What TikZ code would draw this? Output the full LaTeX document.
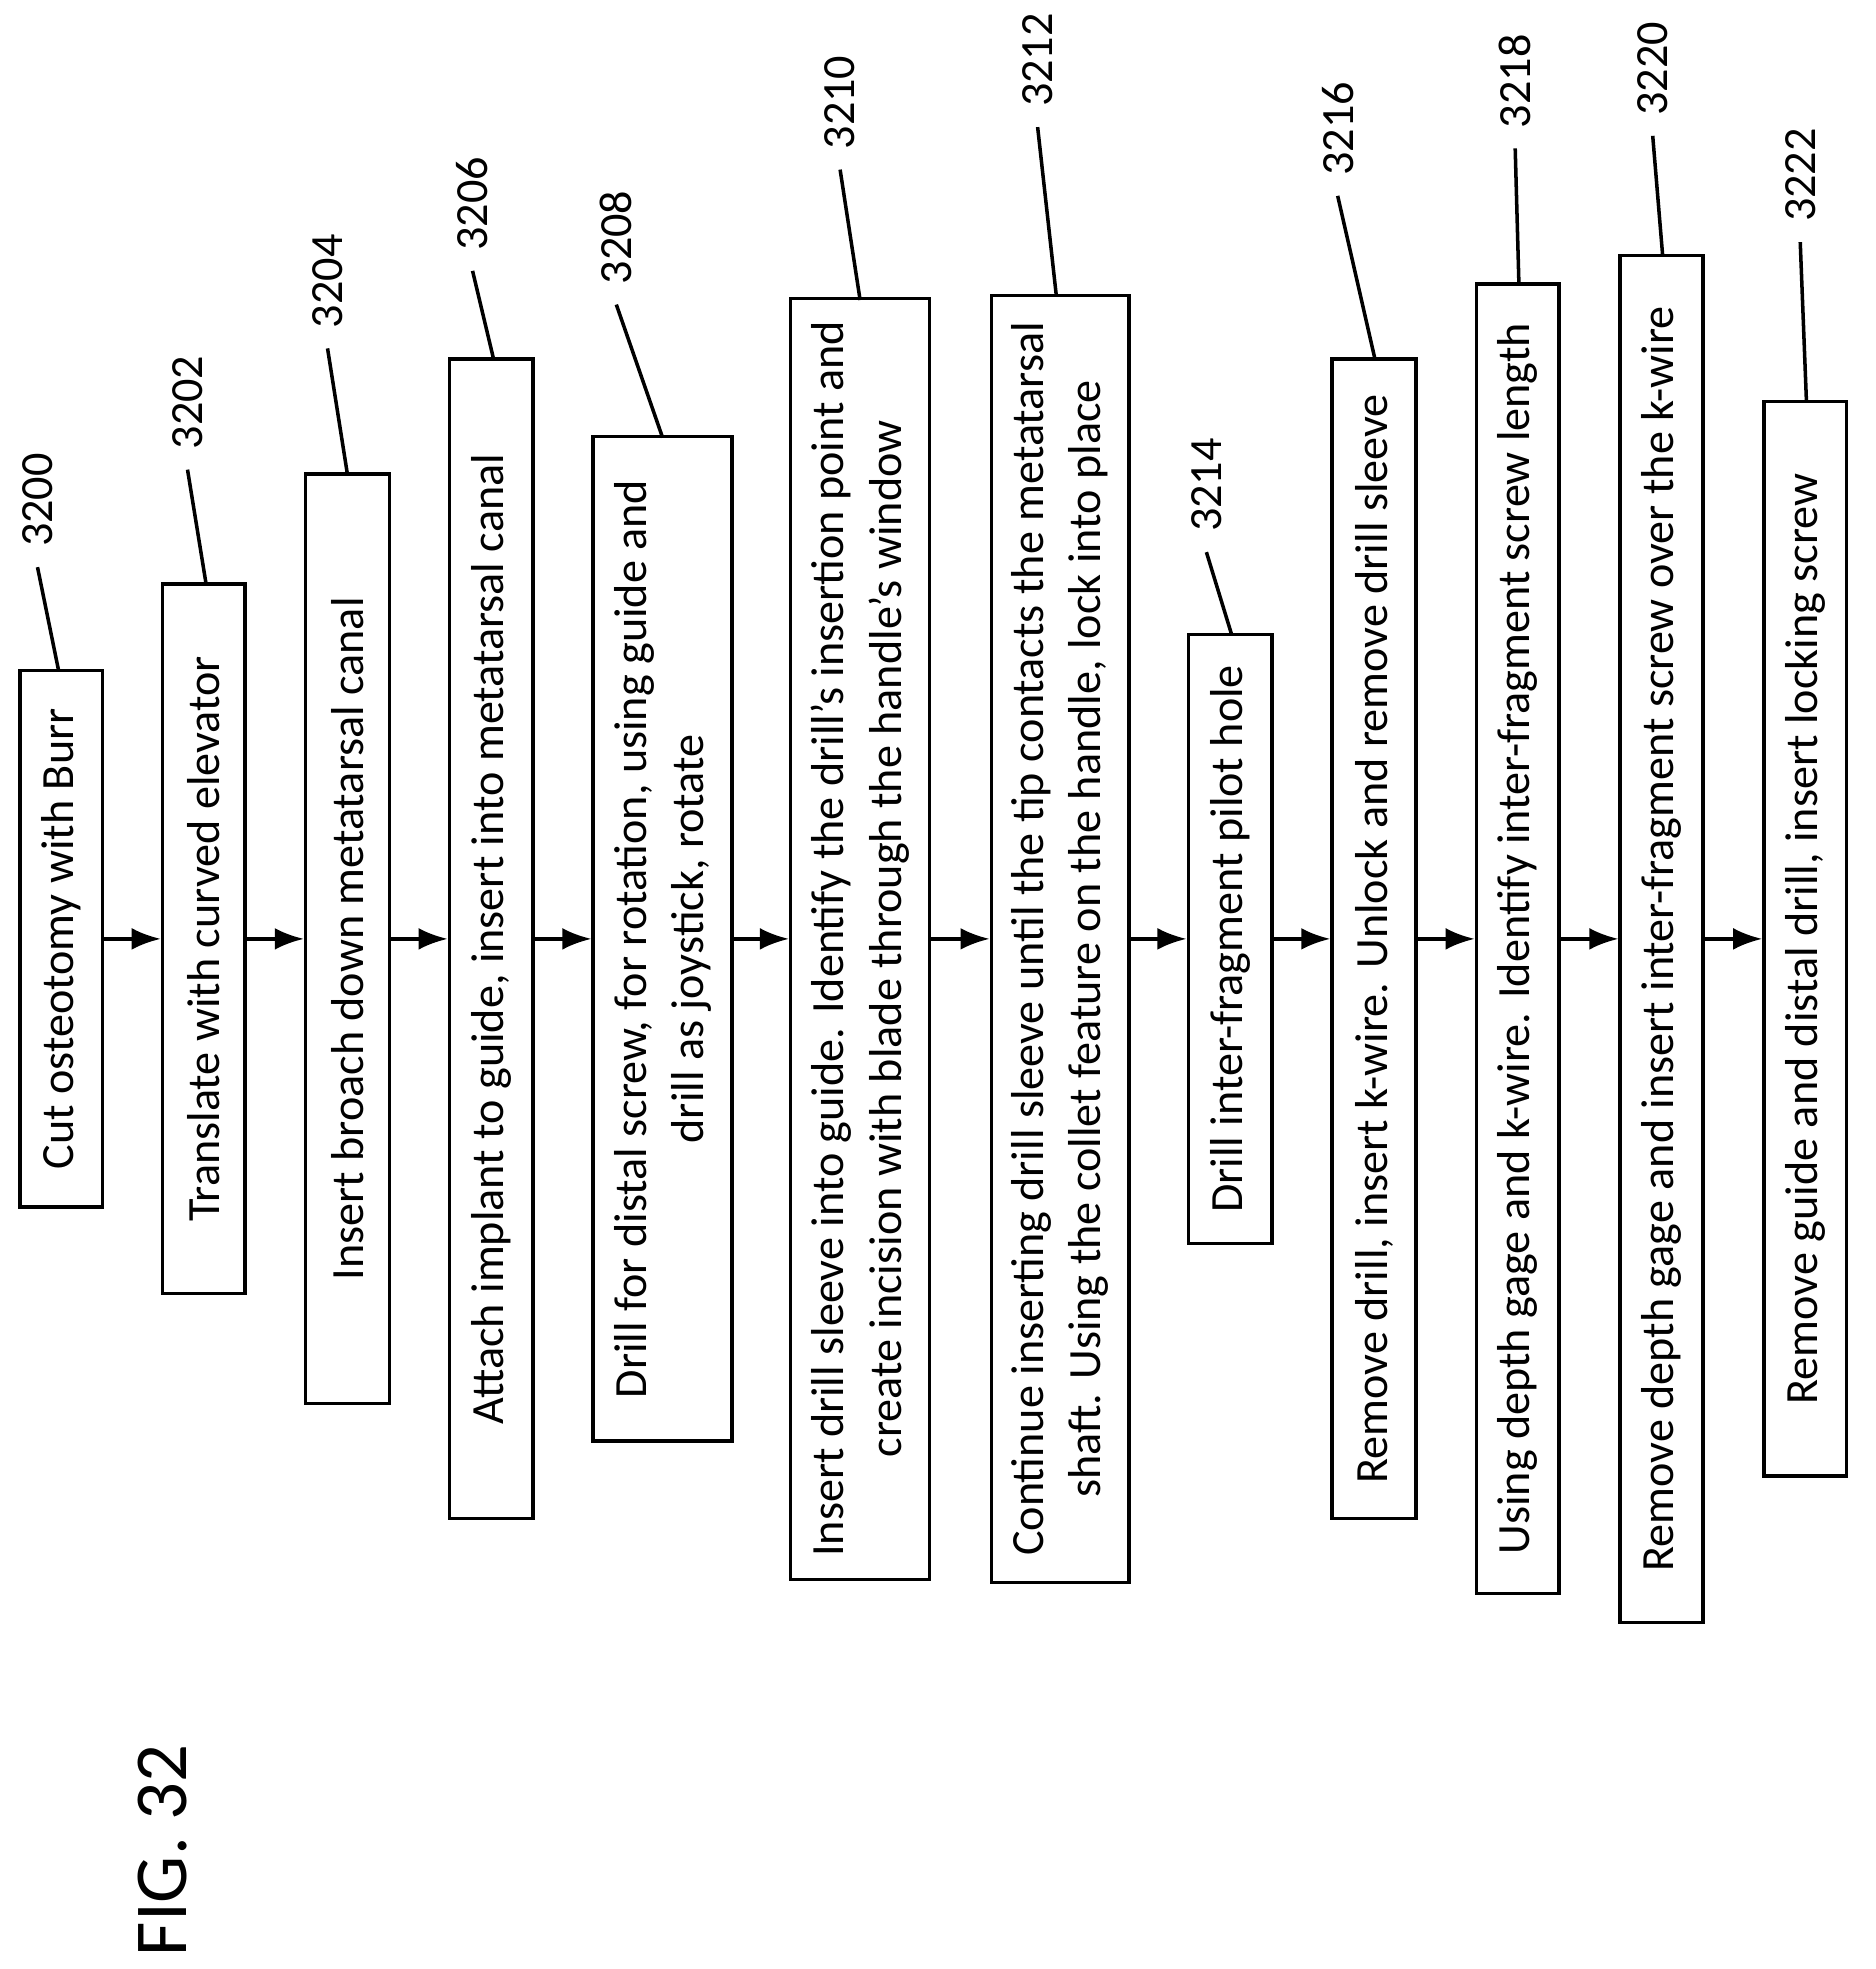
\documentclass[tikz,border=0pt]{standalone}
\usepackage{fontspec}
\setmainfont{Carlito}
\usetikzlibrary{arrows.meta,positioning,calc}
\tikzset{
  font=\fontsize{10.5}{13}\selectfont,
  stepbox/.style={
    draw,
    thick,
    rotate=90,
    align=center,
    inner sep=2pt
  },
  refnum/.style={
    rotate=90,
    inner sep=1pt,
    font=\fontsize{10.5}{13}\selectfont
  },
  arrow/.style={-Latex, thick},
  leader/.style={thick}
}

\begin{document}
\begin{tikzpicture}[x=0.01cm, y=-0.01cm]
\useasboundingbox (0,0) rectangle (1500,1575);

% Steps, left to right
\node[stepbox, minimum width=4.29cm, minimum height=0.66cm] (s3200) at (49,751) {Cut osteotomy with Burr};
\node[stepbox, minimum width=5.67cm, minimum height=0.66cm] (s3202) at (163,751) {Translate with curved elevator};
\node[stepbox, minimum width=7.43cm, minimum height=0.67cm] (s3204) at (278,751) {Insert broach down metatarsal canal};
\node[stepbox, minimum width=9.27cm, minimum height=0.67cm] (s3206) at (393,751) {Attach implant to guide, insert into metatarsal canal};
\node[stepbox, minimum width=8.03cm, minimum height=1.11cm] (s3208) at (530,751) {Drill for distal screw, for rotation, using guide and\\drill as joystick, rotate};
\node[stepbox, minimum width=10.24cm, minimum height=1.11cm] (s3210) at (688,751) {Insert drill sleeve into guide. Identify the drill’s insertion point and\\create incision with blade through the handle’s window};
\node[stepbox, minimum width=10.29cm, minimum height=1.10cm] (s3212) at (848,751) {Continue inserting drill sleeve until the tip contacts the metatarsal\\shaft. Using the collet feature on the handle, lock into place};
\node[stepbox, minimum width=4.87cm, minimum height=0.67cm] (s3214) at (984,751) {Drill inter-fragment pilot hole};
\node[stepbox, minimum width=9.27cm, minimum height=0.67cm] (s3216) at (1099,751) {Remove drill, insert k-wire. Unlock and remove drill sleeve};
\node[stepbox, minimum width=10.47cm, minimum height=0.66cm] (s3218) at (1214,751) {Using depth gage and k-wire. Identify inter-fragment screw length};
\node[stepbox, minimum width=10.93cm, minimum height=0.66cm] (s3220) at (1329,751) {Remove depth gage and insert inter-fragment screw over the k-wire};
\node[stepbox, minimum width=8.59cm, minimum height=0.66cm] (s3222) at (1444,751) {Remove guide and distal drill, insert locking screw};

% Flow
\foreach \a/\b in {3200/3202,3202/3204,3204/3206,3206/3208,3208/3210,3210/3212,
                   3212/3214,3214/3216,3216/3218,3218/3220,3220/3222}
  \draw[arrow] (s\a.south) -- (s\b.north);

% Reference numerals
\node[refnum] (n3200) at (30,400) {3200};
\node[refnum] (n3202) at (150,322) {3202};
\node[refnum] (n3204) at (262,225) {3204};
\node[refnum] (n3206) at (378,163) {3206};
\node[refnum] (n3208) at (493,190) {3208};
\node[refnum] (n3210) at (672,82) {3210};
\node[refnum] (n3212) at (830,48) {3212};
\node[refnum] (n3214) at (965,388) {3214};
\node[refnum] (n3216) at (1070,103) {3216};
\node[refnum] (n3218) at (1212,65) {3218};
\node[refnum] (n3220) at (1322,55) {3220};
\node[refnum] (n3222) at (1440,140) {3222};

\coordinate (t3200) at (47,537);
\coordinate (t3202) at (165,468);
\coordinate (t3204) at (278,380);
\coordinate (t3206) at (395,288);
\coordinate (t3208) at (530,350);
\coordinate (t3210) at (688,240);
\coordinate (t3212) at (845,237);
\coordinate (t3214) at (985,507);
\coordinate (t3216) at (1100,288);
\coordinate (t3218) at (1215,228);
\coordinate (t3220) at (1330,205);
\coordinate (t3222) at (1445,322);

\foreach \n in {3200,3202,3204,3206,3208,3210,3212,3214,3216,3218,3220,3222}
  \draw[leader] ([yshift=-0.12cm]n\n.west) -- (t\n);

\node[rotate=90, font=\fontsize{17}{20}\selectfont] (fig) at (130,1480) {FIG. 32};
\end{tikzpicture}
\end{document}
